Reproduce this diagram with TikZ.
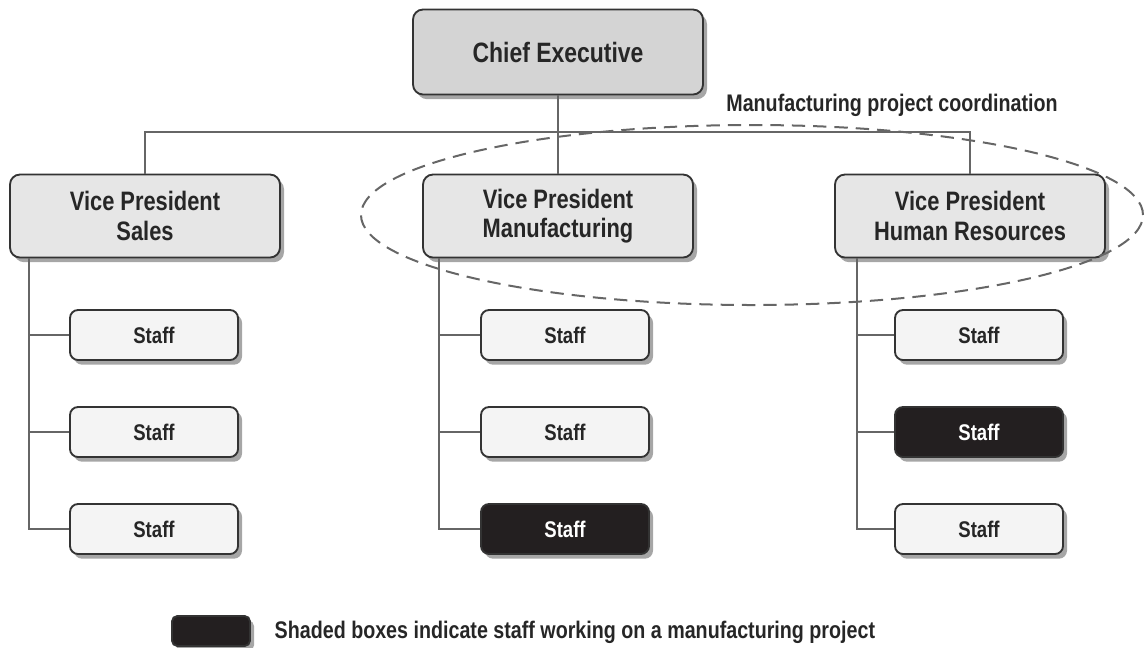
\documentclass[tikz,border=0pt]{standalone}
\usepackage{fontspec}
\setmainfont[FakeStretch=0.82]{Liberation Sans}
\usetikzlibrary{shadows,shapes.geometric}

\definecolor{ceFill}{HTML}{D4D4D4}
\definecolor{vpFill}{HTML}{E6E6E6}
\definecolor{staffFill}{HTML}{F4F4F4}
\definecolor{inkBlack}{HTML}{231F20}
\definecolor{lineGray}{HTML}{666666}

\tikzset{
  box/.style={draw=black!80, line width=1.4pt, rounded corners=7.5pt, align=center,
    font=\bfseries, text=black!85,
    drop shadow={shadow xshift=3pt, shadow yshift=-3.5pt, opacity=.35, fill=black}},
  chief/.style={box, fill=ceFill, minimum width=217.5pt, minimum height=63.75pt,
    font=\bfseries\fontsize{21}{24}\selectfont},
  vp/.style={box, fill=vpFill, minimum width=202.5pt, minimum height=62.25pt,
    font=\bfseries\fontsize{20}{22}\selectfont},
  staff/.style={box, fill=staffFill, rounded corners=6pt, minimum width=126pt, minimum height=37.5pt,
    font=\bfseries\fontsize{17}{19}\selectfont},
  shaded/.style={staff, fill=inkBlack, text=white},
  link/.style={draw=lineGray, line width=1.5pt},
  note/.style={font=\bfseries\fontsize{18}{20}\selectfont, text=black!85},
}

\begin{document}
\begin{tikzpicture}[x=0.75pt, y=-0.75pt]
\useasboundingbox (0,0) rectangle (1145,647);

% top of the chart
\node [chief] (ce) at (558,52) {Chief Executive};
\node [vp] (vps) at (145,216) {Vice President\\Sales};
\node [vp] (vpm) at (558,216) {Vice President\\Manufacturing};
\node [vp] (vph) at (970,216) {Vice President\\Human Resources};

% staff under each vice president
\node [staff]  (s1a) at (154,335) {Staff};
\node [staff]  (s1b) at (154,432) {Staff};
\node [staff]  (s1c) at (154,529) {Staff};
\node [staff]  (s2a) at (565,335) {Staff};
\node [staff]  (s2b) at (565,432) {Staff};
\node [shaded] (s2c) at (565,529) {Staff};
\node [staff]  (s3a) at (979,335) {Staff};
\node [shaded] (s3b) at (979,432) {Staff};
\node [staff]  (s3c) at (979,529) {Staff};

\coordinate (bus) at (558,132);
\path [link] (vps.north) |- (bus) -| (vph.north);
\path [link] (ce.south) -- (vpm.north);

% trunks down the left side of each column
\foreach \vp/\col/\dx in {vps/1/20, vpm/2/17, vph/3/23} {
  \path [link] ([xshift=\dx*0.75pt]\vp.south west) |- (s\col c.west);
  \foreach \row in {a,b}
    \path [link] ([xshift=\dx*0.75pt]\vp.south west |- s\col\row.west) -- (s\col\row.west);
}

% project coordination ring
\node [ellipse, draw=lineGray, line width=1.5pt, dash pattern=on 10pt off 6pt,
  minimum width=586.5pt, minimum height=135pt, inner sep=0pt] (ring) at (752,215) {};
\node [note] (ringlbl) at (892,105) {Manufacturing project coordination};

% legend
\node [box, fill=inkBlack, rounded corners=4pt, minimum width=58.5pt, minimum height=22.5pt] (key) at (211,631) {};
\node [note, anchor=west] (keylbl) at (270,632)
  {Shaded boxes indicate staff working on a manufacturing project};

\end{tikzpicture}
\end{document}
